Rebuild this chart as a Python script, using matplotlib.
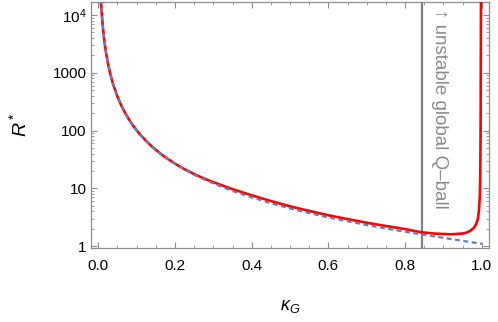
"""Critical radius R* vs kappa_G, with the unstable global Q-ball region marked."""

import matplotlib

matplotlib.use("Agg")
import matplotlib.pyplot as plt
import matplotlib.ticker as mticker

# --- data ------------------------------------------------------------------
# red solid curve (full result)
kappa_full = [0.006, 0.008, 0.010, 0.0125, 0.015, 0.0175, 0.02, 0.025, 0.03, 0.035,
              0.04, 0.05, 0.06, 0.07, 0.08, 0.09, 0.10, 0.11, 0.125, 0.14,
              0.16, 0.175, 0.20, 0.225, 0.25, 0.275, 0.30, 0.35, 0.40, 0.45,
              0.50, 0.55, 0.60, 0.65, 0.70, 0.75, 0.80, 0.843, 0.88, 0.92,
              0.95, 0.96, 0.97, 0.98, 0.985, 0.99, 0.993, 0.995, 0.996, 0.997,
              0.998]
rstar_full = [23100, 13260, 8620, 5610, 3940, 2930, 2260, 1470, 1035, 768,
              594, 386, 271, 202, 156, 124, 101, 84, 66, 52.9,
              41.0, 34.5, 26.8, 21.5, 17.7, 14.9, 12.8, 9.7, 7.6, 6.05,
              4.9, 4.08, 3.43, 2.95, 2.55, 2.24, 1.98, 1.74, 1.65, 1.61,
              1.66, 1.72, 1.85, 2.1, 2.4, 3.0, 4.4, 7.5, 15, 100,
              20000]

# blue dashed curve (approximation)
kappa_approx = [0.006, 0.008, 0.010, 0.0125, 0.015, 0.0175, 0.02, 0.025, 0.03, 0.035,
                0.04, 0.05, 0.06, 0.07, 0.08, 0.09, 0.10, 0.11, 0.125, 0.14,
                0.16, 0.175, 0.20, 0.225, 0.25, 0.275, 0.30, 0.35, 0.40, 0.45,
                0.50, 0.55, 0.60, 0.65, 0.70, 0.75, 0.80, 0.85, 0.90, 0.95,
                1.0]
rstar_approx = [23100, 13260, 8620, 5610, 3940, 2930, 2260, 1470, 1035, 768,
                594, 386, 271, 202, 156, 124, 101, 84, 66, 52.9,
                40.9, 34.4, 26.6, 21.2, 17.3, 14.4, 12.2, 9.03, 7.0, 5.56,
                4.5, 3.75, 3.15, 2.7, 2.33, 2.03, 1.78, 1.58, 1.4, 1.24,
                1.1]

kappa_crit = 0.843

x_ticks = [0.0, 0.2, 0.4, 0.6, 0.8, 1.0]
x_tick_labels = ["0.0", "0.2", "0.4", "0.6", "0.8", "1.0"]
y_ticks = [1, 10, 100, 1000, 1e4]
y_tick_labels = ["1", "10", "100", "1000", "$10^4$"]

plt.rcParams.update(
    {
        "font.family": ["Liberation Sans", "DejaVu Sans"],
        "mathtext.fontset": "custom",
        "mathtext.rm": "Liberation Sans",
        "mathtext.it": "Liberation Sans:italic",
        "mathtext.bf": "Liberation Sans:bold",
    }
)

FRAME = "#8c8c8c"

fig = plt.figure(figsize=(4.98, 3.22), dpi=100)
ax = fig.add_axes([0.182, 0.230, 0.800, 0.765])

ax.plot(kappa_full, rstar_full, color="#ff0000", lw=1.9, solid_capstyle="butt", zorder=3)
ax.plot(kappa_approx, rstar_approx, color="#5e81b5", lw=1.6, ls=(0, (2.2, 1.6)), zorder=4)
ax.axvline(kappa_crit, color="#808080", lw=1.6, zorder=2)

ax.text(kappa_crit + 0.046, 1.25e4, "\u2191 unstable global Q\u2013ball", rotation=-90,
        color="#8a8a8a", fontsize=13.5, ha="left", va="center", rotation_mode="anchor")

ax.set_yscale("log")
ax.set_xlim(-0.02, 1.019)
ax.set_ylim(0.935, 17000)

ax.set_xticks(x_ticks)
ax.set_xticklabels(x_tick_labels)
ax.xaxis.set_minor_locator(mticker.MultipleLocator(0.05))
ax.set_yticks(y_ticks)
ax.set_yticklabels(y_tick_labels)
ax.yaxis.set_minor_locator(mticker.LogLocator(base=10, subs=range(2, 10)))
ax.yaxis.set_minor_formatter(mticker.NullFormatter())

ax.tick_params(which="both", direction="in", top=True, right=True, colors=FRAME,
               labelcolor="black", labelsize=11)
ax.tick_params(which="major", length=4.5, width=0.8)
ax.tick_params(which="minor", length=2.5, width=0.6)
ax.tick_params(axis="x", which="major", pad=8)
ax.tick_params(axis="y", which="major", pad=3)
for spine in ax.spines.values():
    spine.set_color(FRAME)
    spine.set_linewidth(0.9)

ax.set_xlabel(r"$\kappa_G$", fontsize=13, labelpad=18)
ax.set_ylabel(r"$R^*$", fontsize=14, labelpad=16)

fig.savefig("out.png", dpi=100)
